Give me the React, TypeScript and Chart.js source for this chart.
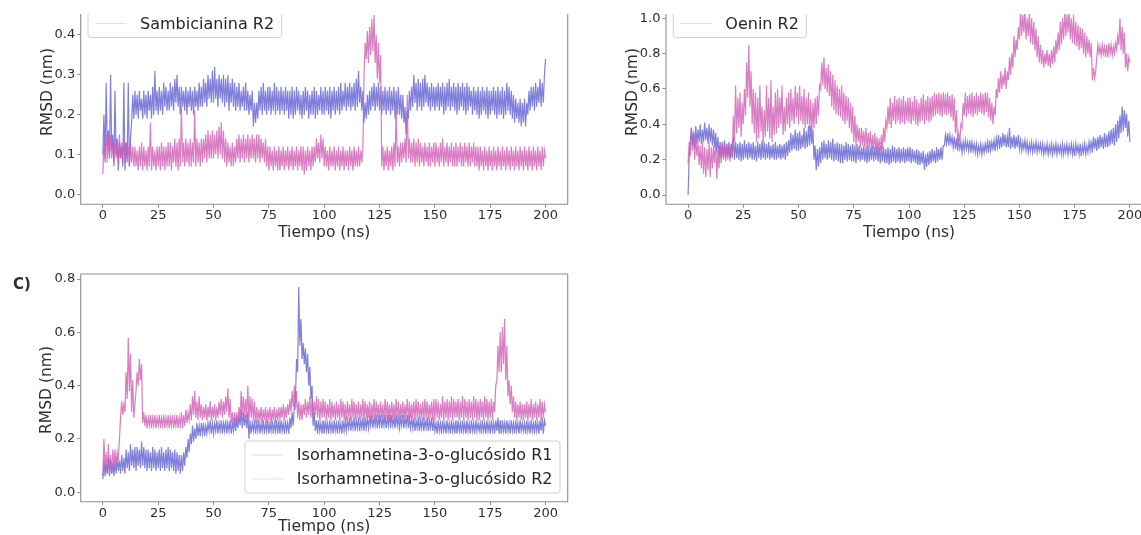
import React, { useEffect, useRef } from "react";
import { Chart, registerables } from "chart.js";
Chart.register(...registerables);

// sampling times (ns), one frame every 0.5 ns
const TIME_NS: number[] = Array.from({ length: 401 }, (_, i) => i * 0.5);
const X_TICKS = [0, 25, 50, 75, 100, 125, 150, 175, 200];
const Y_TICKS_A = [0, 0.1, 0.2, 0.3, 0.4];
const Y_TICKS_B = [0, 0.2, 0.4, 0.6, 0.8, 1.0];
const Y_TICKS_C = [0, 0.2, 0.4, 0.6, 0.8];

const LABELS_A = ["Sambicianina R1", "Sambicianina R2"];
const LABELS_B = ["Oenin R1", "Oenin R2"];
const LABELS_C = ["Isorhamnetina-3-o-glucósido R1", "Isorhamnetina-3-o-glucósido R2"];

const SAMB_R1 = [
  0.10, 0.20, 0.08, 0.28, 0.12, 0.16, 0.09, 0.30, 0.11, 0.15,
  0.07, 0.26, 0.10, 0.14, 0.06, 0.13, 0.09, 0.12, 0.07, 0.28,
  0.06, 0.13, 0.08, 0.28, 0.07, 0.14, 0.18, 0.25, 0.19, 0.26,
  0.20, 0.25, 0.19, 0.26, 0.21, 0.24, 0.19, 0.26, 0.20, 0.25,
  0.19, 0.26, 0.21, 0.25, 0.19, 0.27, 0.20, 0.31, 0.21, 0.26,
  0.20, 0.27, 0.21, 0.26, 0.20, 0.28, 0.22, 0.27, 0.21, 0.26,
  0.21, 0.28, 0.22, 0.27, 0.21, 0.29, 0.23, 0.30, 0.22, 0.27,
  0.20, 0.27, 0.22, 0.26, 0.21, 0.27, 0.20, 0.26, 0.22, 0.27,
  0.21, 0.26, 0.20, 0.27, 0.22, 0.26, 0.21, 0.28, 0.22, 0.27,
  0.22, 0.29, 0.23, 0.28, 0.22, 0.30, 0.24, 0.29, 0.23, 0.31,
  0.23, 0.32, 0.24, 0.29, 0.22, 0.30, 0.24, 0.29, 0.23, 0.30,
  0.22, 0.29, 0.23, 0.30, 0.21, 0.28, 0.23, 0.29, 0.22, 0.28,
  0.21, 0.27, 0.22, 0.28, 0.21, 0.26, 0.22, 0.27, 0.21, 0.28,
  0.21, 0.26, 0.20, 0.25, 0.21, 0.26, 0.17, 0.23, 0.18, 0.23,
  0.19, 0.26, 0.21, 0.27, 0.20, 0.28, 0.21, 0.26, 0.20, 0.27,
  0.21, 0.27, 0.20, 0.26, 0.21, 0.28, 0.20, 0.27, 0.21, 0.26,
  0.20, 0.27, 0.21, 0.26, 0.20, 0.27, 0.21, 0.26, 0.19, 0.26,
  0.20, 0.27, 0.19, 0.26, 0.20, 0.27, 0.21, 0.26, 0.20, 0.25,
  0.19, 0.26, 0.20, 0.27, 0.21, 0.26, 0.19, 0.25, 0.20, 0.26,
  0.20, 0.27, 0.19, 0.26, 0.20, 0.25, 0.21, 0.27, 0.20, 0.26,
  0.20, 0.27, 0.21, 0.26, 0.20, 0.27, 0.19, 0.26, 0.21, 0.27,
  0.20, 0.26, 0.21, 0.27, 0.20, 0.28, 0.21, 0.26, 0.22, 0.28,
  0.21, 0.27, 0.22, 0.28, 0.21, 0.27, 0.22, 0.28, 0.21, 0.29,
  0.22, 0.31, 0.23, 0.27, 0.21, 0.26, 0.18, 0.23, 0.19, 0.25,
  0.20, 0.26, 0.21, 0.27, 0.22, 0.28, 0.21, 0.27, 0.22, 0.28,
  0.21, 0.27, 0.20, 0.26, 0.21, 0.27, 0.20, 0.26, 0.21, 0.27,
  0.20, 0.26, 0.21, 0.27, 0.19, 0.26, 0.20, 0.27, 0.20, 0.25,
  0.19, 0.25, 0.18, 0.22, 0.15, 0.21, 0.19, 0.26, 0.21, 0.27,
  0.22, 0.30, 0.23, 0.28, 0.21, 0.29, 0.22, 0.28, 0.21, 0.29,
  0.22, 0.30, 0.23, 0.28, 0.22, 0.27, 0.21, 0.28, 0.22, 0.27,
  0.21, 0.27, 0.22, 0.28, 0.21, 0.27, 0.22, 0.28, 0.20, 0.27,
  0.21, 0.28, 0.22, 0.29, 0.21, 0.27, 0.22, 0.28, 0.21, 0.27,
  0.20, 0.28, 0.21, 0.27, 0.22, 0.28, 0.21, 0.27, 0.20, 0.28,
  0.21, 0.27, 0.22, 0.26, 0.20, 0.27, 0.21, 0.26, 0.20, 0.27,
  0.19, 0.26, 0.20, 0.27, 0.21, 0.26, 0.20, 0.27, 0.19, 0.26,
  0.20, 0.26, 0.21, 0.27, 0.20, 0.26, 0.19, 0.27, 0.20, 0.26,
  0.20, 0.27, 0.19, 0.26, 0.20, 0.28, 0.21, 0.27, 0.20, 0.26,
  0.19, 0.25, 0.18, 0.24, 0.19, 0.23, 0.18, 0.24, 0.17, 0.23,
  0.18, 0.24, 0.17, 0.23, 0.20, 0.26, 0.21, 0.27, 0.22, 0.27,
  0.21, 0.28, 0.22, 0.27, 0.23, 0.29, 0.22, 0.28, 0.23, 0.30,
  0.34,
];

const SAMB_R2 = [
  0.05, 0.13, 0.09, 0.15, 0.08, 0.14, 0.10, 0.15, 0.09, 0.13,
  0.08, 0.14, 0.09, 0.13, 0.08, 0.15, 0.09, 0.13, 0.08, 0.14,
  0.08, 0.13, 0.09, 0.12, 0.07, 0.13, 0.08, 0.12, 0.07, 0.12,
  0.07, 0.11, 0.06, 0.12, 0.07, 0.13, 0.06, 0.12, 0.07, 0.11,
  0.06, 0.12, 0.07, 0.18, 0.06, 0.12, 0.07, 0.11, 0.06, 0.12,
  0.07, 0.12, 0.06, 0.13, 0.07, 0.12, 0.06, 0.12, 0.07, 0.13,
  0.07, 0.13, 0.06, 0.12, 0.08, 0.14, 0.07, 0.13, 0.06, 0.14,
  0.07, 0.22, 0.08, 0.13, 0.07, 0.14, 0.08, 0.13, 0.07, 0.14,
  0.07, 0.13, 0.08, 0.21, 0.07, 0.14, 0.08, 0.13, 0.07, 0.14,
  0.08, 0.14, 0.09, 0.15, 0.08, 0.16, 0.09, 0.15, 0.09, 0.16,
  0.09, 0.15, 0.10, 0.16, 0.09, 0.17, 0.10, 0.18, 0.09, 0.16,
  0.08, 0.14, 0.07, 0.13, 0.08, 0.12, 0.07, 0.13, 0.07, 0.12,
  0.08, 0.14, 0.09, 0.15, 0.08, 0.14, 0.09, 0.15, 0.08, 0.14,
  0.09, 0.15, 0.08, 0.14, 0.09, 0.15, 0.09, 0.14, 0.08, 0.15,
  0.09, 0.15, 0.08, 0.14, 0.09, 0.13, 0.08, 0.14, 0.07, 0.12,
  0.06, 0.12, 0.07, 0.11, 0.06, 0.12, 0.07, 0.11, 0.06, 0.12,
  0.06, 0.11, 0.07, 0.12, 0.06, 0.11, 0.07, 0.12, 0.06, 0.11,
  0.07, 0.12, 0.06, 0.11, 0.07, 0.12, 0.06, 0.11, 0.07, 0.12,
  0.06, 0.12, 0.05, 0.11, 0.06, 0.12, 0.07, 0.11, 0.06, 0.12,
  0.07, 0.12, 0.08, 0.14, 0.09, 0.13, 0.08, 0.15, 0.09, 0.14,
  0.07, 0.12, 0.07, 0.11, 0.06, 0.12, 0.07, 0.11, 0.07, 0.12,
  0.06, 0.11, 0.07, 0.12, 0.06, 0.11, 0.07, 0.12, 0.06, 0.11,
  0.07, 0.11, 0.06, 0.12, 0.07, 0.11, 0.06, 0.12, 0.07, 0.11,
  0.07, 0.12, 0.07, 0.11, 0.08, 0.12, 0.30, 0.38, 0.34, 0.41,
  0.33, 0.42, 0.35, 0.44, 0.36, 0.45, 0.33, 0.40, 0.29, 0.38,
  0.28, 0.35, 0.07, 0.12, 0.06, 0.11, 0.07, 0.12, 0.06, 0.11,
  0.07, 0.12, 0.06, 0.13, 0.07, 0.22, 0.08, 0.12, 0.07, 0.13,
  0.08, 0.13, 0.09, 0.14, 0.08, 0.25, 0.09, 0.14, 0.08, 0.13,
  0.08, 0.14, 0.07, 0.13, 0.08, 0.14, 0.07, 0.13, 0.08, 0.12,
  0.07, 0.13, 0.08, 0.12, 0.07, 0.13, 0.07, 0.12, 0.08, 0.13,
  0.07, 0.13, 0.08, 0.12, 0.07, 0.13, 0.08, 0.14, 0.07, 0.12,
  0.08, 0.13, 0.07, 0.12, 0.08, 0.13, 0.07, 0.12, 0.07, 0.13,
  0.07, 0.12, 0.08, 0.13, 0.07, 0.12, 0.07, 0.13, 0.08, 0.12,
  0.07, 0.13, 0.07, 0.12, 0.08, 0.13, 0.07, 0.12, 0.07, 0.12,
  0.06, 0.12, 0.07, 0.11, 0.06, 0.12, 0.07, 0.11, 0.06, 0.12,
  0.07, 0.11, 0.06, 0.12, 0.07, 0.11, 0.06, 0.12, 0.07, 0.11,
  0.06, 0.12, 0.07, 0.11, 0.06, 0.12, 0.07, 0.11, 0.06, 0.12,
  0.07, 0.11, 0.06, 0.12, 0.07, 0.11, 0.06, 0.12, 0.07, 0.11,
  0.06, 0.12, 0.07, 0.11, 0.06, 0.12, 0.07, 0.11, 0.06, 0.12,
  0.07, 0.11, 0.06, 0.12, 0.07, 0.11, 0.06, 0.12, 0.07, 0.11,
  0.09,
];

const OENIN_R1 = [
  0.00, 0.22, 0.30, 0.38, 0.28, 0.36, 0.27, 0.39, 0.29, 0.37,
  0.30, 0.40, 0.29, 0.37, 0.30, 0.41, 0.31, 0.38, 0.29, 0.40,
  0.30, 0.38, 0.28, 0.37, 0.27, 0.35, 0.24, 0.33, 0.22, 0.30,
  0.21, 0.30, 0.22, 0.31, 0.21, 0.29, 0.22, 0.30, 0.21, 0.29,
  0.21, 0.33, 0.20, 0.30, 0.21, 0.29, 0.20, 0.30, 0.19, 0.29,
  0.20, 0.31, 0.21, 0.29, 0.20, 0.30, 0.21, 0.29, 0.20, 0.30,
  0.20, 0.28, 0.19, 0.30, 0.21, 0.29, 0.20, 0.31, 0.21, 0.30,
  0.20, 0.29, 0.21, 0.30, 0.20, 0.28, 0.21, 0.29, 0.20, 0.30,
  0.20, 0.28, 0.21, 0.29, 0.20, 0.28, 0.21, 0.29, 0.20, 0.30,
  0.22, 0.31, 0.24, 0.35, 0.25, 0.34, 0.26, 0.37, 0.25, 0.35,
  0.25, 0.36, 0.26, 0.34, 0.27, 0.38, 0.26, 0.36, 0.27, 0.39,
  0.28, 0.39, 0.29, 0.37, 0.20, 0.28, 0.14, 0.26, 0.16, 0.27,
  0.18, 0.30, 0.20, 0.31, 0.21, 0.29, 0.20, 0.31, 0.21, 0.30,
  0.20, 0.32, 0.19, 0.29, 0.20, 0.30, 0.19, 0.29, 0.18, 0.29,
  0.18, 0.28, 0.20, 0.30, 0.19, 0.29, 0.20, 0.28, 0.19, 0.29,
  0.19, 0.28, 0.18, 0.29, 0.20, 0.28, 0.19, 0.27, 0.20, 0.28,
  0.19, 0.27, 0.18, 0.28, 0.19, 0.27, 0.20, 0.28, 0.19, 0.27,
  0.20, 0.28, 0.19, 0.27, 0.18, 0.28, 0.19, 0.27, 0.18, 0.26,
  0.18, 0.27, 0.17, 0.26, 0.18, 0.28, 0.19, 0.27, 0.18, 0.26,
  0.19, 0.27, 0.18, 0.26, 0.19, 0.27, 0.18, 0.26, 0.19, 0.27,
  0.19, 0.27, 0.18, 0.26, 0.19, 0.25, 0.18, 0.26, 0.17, 0.25,
  0.17, 0.24, 0.18, 0.25, 0.14, 0.23, 0.16, 0.24, 0.17, 0.25,
  0.18, 0.26, 0.19, 0.25, 0.18, 0.27, 0.19, 0.26, 0.20, 0.27,
  0.20, 0.28, 0.28, 0.34, 0.29, 0.35, 0.28, 0.34, 0.29, 0.33,
  0.27, 0.33, 0.26, 0.32, 0.25, 0.31, 0.26, 0.30, 0.24, 0.30,
  0.25, 0.31, 0.26, 0.30, 0.25, 0.31, 0.24, 0.30, 0.25, 0.29,
  0.24, 0.29, 0.23, 0.28, 0.24, 0.29, 0.23, 0.28, 0.24, 0.29,
  0.25, 0.30, 0.24, 0.31, 0.25, 0.30, 0.26, 0.31, 0.25, 0.32,
  0.27, 0.34, 0.26, 0.33, 0.27, 0.35, 0.28, 0.34, 0.27, 0.33,
  0.27, 0.38, 0.26, 0.33, 0.27, 0.34, 0.26, 0.33, 0.27, 0.34,
  0.26, 0.31, 0.25, 0.30, 0.26, 0.31, 0.25, 0.30, 0.24, 0.29,
  0.25, 0.30, 0.24, 0.29, 0.25, 0.30, 0.24, 0.29, 0.25, 0.29,
  0.24, 0.29, 0.23, 0.28, 0.24, 0.29, 0.23, 0.28, 0.24, 0.29,
  0.23, 0.28, 0.24, 0.29, 0.23, 0.28, 0.24, 0.28, 0.23, 0.29,
  0.23, 0.28, 0.24, 0.29, 0.23, 0.28, 0.24, 0.29, 0.23, 0.28,
  0.22, 0.29, 0.24, 0.28, 0.23, 0.29, 0.22, 0.28, 0.24, 0.29,
  0.23, 0.28, 0.24, 0.30, 0.25, 0.31, 0.24, 0.33, 0.26, 0.32,
  0.25, 0.33, 0.26, 0.34, 0.27, 0.33, 0.26, 0.35, 0.27, 0.34,
  0.27, 0.36, 0.28, 0.37, 0.29, 0.38, 0.28, 0.40, 0.30, 0.42,
  0.32, 0.45, 0.35, 0.50, 0.36, 0.48, 0.38, 0.46, 0.33, 0.42,
  0.30,
];

const OENIN_R2 = [
  0.18, 0.30, 0.22, 0.38, 0.25, 0.35, 0.20, 0.33, 0.22, 0.30,
  0.17, 0.28, 0.15, 0.30, 0.12, 0.27, 0.10, 0.26, 0.14, 0.30,
  0.10, 0.27, 0.15, 0.28, 0.18, 0.30, 0.09, 0.25, 0.15, 0.28,
  0.18, 0.30, 0.20, 0.28, 0.19, 0.29, 0.20, 0.28, 0.19, 0.27,
  0.22, 0.45, 0.30, 0.62, 0.35, 0.55, 0.38, 0.58, 0.33, 0.52,
  0.40, 0.60, 0.45, 0.75, 0.55, 0.85, 0.50, 0.70, 0.40, 0.60,
  0.35, 0.58, 0.30, 0.55, 0.32, 0.62, 0.36, 0.50, 0.30, 0.48,
  0.33, 0.62, 0.36, 0.55, 0.32, 0.65, 0.30, 0.50, 0.34, 0.58,
  0.35, 0.60, 0.38, 0.55, 0.40, 0.62, 0.34, 0.50, 0.36, 0.55,
  0.40, 0.58, 0.38, 0.60, 0.42, 0.55, 0.40, 0.62, 0.44, 0.58,
  0.40, 0.62, 0.42, 0.56, 0.40, 0.60, 0.38, 0.55, 0.40, 0.58,
  0.36, 0.54, 0.35, 0.52, 0.38, 0.55, 0.40, 0.56, 0.45, 0.62,
  0.60, 0.75, 0.62, 0.78, 0.60, 0.72, 0.58, 0.74, 0.56, 0.70,
  0.50, 0.68, 0.48, 0.65, 0.46, 0.62, 0.45, 0.60, 0.44, 0.62,
  0.42, 0.58, 0.40, 0.56, 0.42, 0.55, 0.38, 0.52, 0.35, 0.50,
  0.30, 0.45, 0.28, 0.40, 0.30, 0.38, 0.27, 0.38, 0.28, 0.36,
  0.27, 0.38, 0.26, 0.35, 0.27, 0.36, 0.25, 0.34, 0.26, 0.35,
  0.25, 0.33, 0.24, 0.32, 0.25, 0.34, 0.26, 0.38, 0.30, 0.42,
  0.38, 0.50, 0.40, 0.55, 0.38, 0.52, 0.42, 0.56, 0.40, 0.54,
  0.42, 0.55, 0.40, 0.54, 0.41, 0.56, 0.40, 0.53, 0.42, 0.55,
  0.41, 0.55, 0.40, 0.53, 0.42, 0.56, 0.40, 0.54, 0.39, 0.52,
  0.41, 0.55, 0.42, 0.57, 0.40, 0.54, 0.42, 0.56, 0.41, 0.55,
  0.42, 0.56, 0.44, 0.58, 0.45, 0.57, 0.46, 0.58, 0.45, 0.57,
  0.44, 0.58, 0.46, 0.57, 0.45, 0.58, 0.46, 0.56, 0.44, 0.57,
  0.42, 0.55, 0.35, 0.48, 0.28, 0.35, 0.30, 0.40, 0.38, 0.52,
  0.45, 0.58, 0.44, 0.56, 0.46, 0.57, 0.45, 0.58, 0.44, 0.56,
  0.46, 0.58, 0.45, 0.56, 0.47, 0.58, 0.46, 0.57, 0.45, 0.58,
  0.47, 0.58, 0.44, 0.55, 0.42, 0.52, 0.40, 0.50, 0.45, 0.60,
  0.55, 0.66, 0.58, 0.70, 0.60, 0.68, 0.62, 0.72, 0.60, 0.70,
  0.65, 0.78, 0.68, 0.80, 0.72, 0.90, 0.78, 0.88, 0.82, 0.95,
  0.88, 1.05, 0.90, 1.02, 0.92, 1.05, 0.88, 1.00, 0.90, 1.04,
  0.86, 1.00, 0.85, 0.98, 0.82, 0.94, 0.78, 0.90, 0.75, 0.85,
  0.74, 0.82, 0.72, 0.80, 0.74, 0.82, 0.73, 0.80, 0.72, 0.82,
  0.74, 0.84, 0.75, 0.88, 0.80, 0.92, 0.82, 0.98, 0.85, 1.00,
  0.88, 1.05, 0.90, 1.02, 0.92, 1.04, 0.88, 1.00, 0.86, 1.02,
  0.85, 0.98, 0.84, 0.96, 0.82, 0.95, 0.83, 0.94, 0.80, 0.92,
  0.78, 0.90, 0.80, 0.88, 0.78, 0.86, 0.65, 0.72, 0.66, 0.70,
  0.78, 0.85, 0.80, 0.84, 0.79, 0.85, 0.80, 0.84, 0.78, 0.85,
  0.78, 0.86, 0.80, 0.85, 0.79, 0.84, 0.80, 0.86, 0.82, 0.90,
  0.85, 1.00, 0.82, 0.95, 0.80, 0.92, 0.72, 0.80, 0.70, 0.78,
  0.75,
];

const ISO_R1 = [
  0.05, 0.12, 0.06, 0.11, 0.07, 0.13, 0.06, 0.12, 0.07, 0.11,
  0.06, 0.12, 0.07, 0.13, 0.08, 0.12, 0.07, 0.14, 0.08, 0.13,
  0.07, 0.16, 0.09, 0.15, 0.08, 0.18, 0.10, 0.16, 0.09, 0.17,
  0.08, 0.17, 0.10, 0.16, 0.09, 0.19, 0.10, 0.17, 0.09, 0.16,
  0.08, 0.16, 0.09, 0.15, 0.08, 0.17, 0.09, 0.16, 0.08, 0.15,
  0.09, 0.16, 0.08, 0.17, 0.09, 0.15, 0.08, 0.16, 0.09, 0.17,
  0.08, 0.16, 0.09, 0.15, 0.08, 0.16, 0.07, 0.15, 0.08, 0.14,
  0.07, 0.14, 0.08, 0.15, 0.10, 0.17, 0.13, 0.20, 0.15, 0.22,
  0.18, 0.25, 0.19, 0.24, 0.20, 0.26, 0.21, 0.25, 0.21, 0.26,
  0.22, 0.26, 0.21, 0.25, 0.22, 0.26, 0.23, 0.27, 0.22, 0.26,
  0.22, 0.26, 0.23, 0.27, 0.22, 0.26, 0.23, 0.27, 0.22, 0.26,
  0.23, 0.27, 0.22, 0.26, 0.23, 0.27, 0.22, 0.26, 0.23, 0.27,
  0.23, 0.28, 0.24, 0.29, 0.25, 0.31, 0.24, 0.30, 0.25, 0.29,
  0.24, 0.30, 0.20, 0.27, 0.22, 0.26, 0.23, 0.27, 0.22, 0.26,
  0.23, 0.27, 0.22, 0.26, 0.23, 0.27, 0.22, 0.26, 0.23, 0.27,
  0.22, 0.26, 0.23, 0.27, 0.22, 0.26, 0.23, 0.27, 0.22, 0.27,
  0.22, 0.27, 0.23, 0.26, 0.22, 0.27, 0.23, 0.26, 0.22, 0.28,
  0.24, 0.30, 0.25, 0.32, 0.35, 0.50, 0.45, 0.77, 0.55, 0.65,
  0.50, 0.56, 0.48, 0.54, 0.45, 0.52, 0.40, 0.47, 0.35, 0.40,
  0.25, 0.30, 0.23, 0.27, 0.22, 0.27, 0.23, 0.26, 0.22, 0.27,
  0.22, 0.27, 0.23, 0.26, 0.22, 0.27, 0.23, 0.26, 0.22, 0.27,
  0.23, 0.26, 0.22, 0.27, 0.23, 0.26, 0.22, 0.27, 0.23, 0.27,
  0.23, 0.27, 0.24, 0.28, 0.23, 0.27, 0.24, 0.28, 0.23, 0.27,
  0.24, 0.28, 0.23, 0.27, 0.24, 0.28, 0.23, 0.28, 0.24, 0.28,
  0.24, 0.28, 0.25, 0.29, 0.24, 0.28, 0.25, 0.29, 0.24, 0.28,
  0.25, 0.29, 0.24, 0.28, 0.25, 0.29, 0.24, 0.28, 0.25, 0.29,
  0.24, 0.29, 0.25, 0.28, 0.24, 0.29, 0.25, 0.28, 0.24, 0.28,
  0.25, 0.29, 0.24, 0.28, 0.25, 0.29, 0.24, 0.28, 0.24, 0.28,
  0.24, 0.28, 0.23, 0.27, 0.24, 0.28, 0.23, 0.27, 0.24, 0.28,
  0.23, 0.27, 0.24, 0.28, 0.23, 0.27, 0.24, 0.28, 0.23, 0.27,
  0.23, 0.26, 0.22, 0.27, 0.23, 0.26, 0.22, 0.27, 0.23, 0.26,
  0.22, 0.27, 0.23, 0.26, 0.22, 0.27, 0.23, 0.26, 0.22, 0.27,
  0.22, 0.27, 0.23, 0.26, 0.22, 0.27, 0.23, 0.26, 0.22, 0.27,
  0.23, 0.26, 0.22, 0.27, 0.23, 0.26, 0.22, 0.27, 0.23, 0.26,
  0.23, 0.26, 0.22, 0.27, 0.23, 0.26, 0.22, 0.27, 0.23, 0.26,
  0.22, 0.27, 0.23, 0.26, 0.22, 0.27, 0.23, 0.28, 0.22, 0.27,
  0.22, 0.27, 0.23, 0.26, 0.22, 0.27, 0.23, 0.26, 0.22, 0.27,
  0.23, 0.26, 0.22, 0.27, 0.23, 0.26, 0.22, 0.27, 0.23, 0.26,
  0.23, 0.26, 0.22, 0.27, 0.23, 0.26, 0.22, 0.27, 0.23, 0.26,
  0.22, 0.27, 0.23, 0.26, 0.22, 0.27, 0.23, 0.28, 0.22, 0.27,
  0.25,
];

const ISO_R2 = [
  0.06, 0.20, 0.08, 0.15, 0.07, 0.18, 0.08, 0.14, 0.07, 0.16,
  0.09, 0.16, 0.10, 0.15, 0.12, 0.20, 0.28, 0.34, 0.29, 0.33,
  0.30, 0.45, 0.35, 0.58, 0.38, 0.52, 0.30, 0.42, 0.28, 0.33,
  0.38, 0.45, 0.40, 0.50, 0.42, 0.48, 0.26, 0.30, 0.25, 0.29,
  0.24, 0.28, 0.25, 0.29, 0.24, 0.28, 0.25, 0.29, 0.24, 0.28,
  0.25, 0.29, 0.24, 0.28, 0.25, 0.29, 0.24, 0.28, 0.25, 0.29,
  0.24, 0.28, 0.25, 0.29, 0.24, 0.28, 0.25, 0.29, 0.24, 0.28,
  0.25, 0.30, 0.24, 0.29, 0.25, 0.31, 0.26, 0.30, 0.27, 0.33,
  0.27, 0.36, 0.29, 0.38, 0.28, 0.34, 0.27, 0.36, 0.28, 0.33,
  0.27, 0.32, 0.28, 0.33, 0.27, 0.32, 0.28, 0.34, 0.27, 0.32,
  0.28, 0.33, 0.27, 0.32, 0.28, 0.34, 0.29, 0.35, 0.28, 0.34,
  0.29, 0.36, 0.30, 0.39, 0.28, 0.35, 0.26, 0.30, 0.25, 0.30,
  0.25, 0.30, 0.26, 0.32, 0.28, 0.38, 0.29, 0.36, 0.28, 0.35,
  0.28, 0.40, 0.27, 0.36, 0.28, 0.35, 0.27, 0.34, 0.26, 0.32,
  0.26, 0.31, 0.27, 0.32, 0.26, 0.31, 0.27, 0.32, 0.26, 0.31,
  0.27, 0.32, 0.26, 0.31, 0.27, 0.32, 0.26, 0.31, 0.27, 0.32,
  0.27, 0.32, 0.28, 0.33, 0.27, 0.32, 0.28, 0.33, 0.29, 0.35,
  0.30, 0.38, 0.32, 0.40, 0.31, 0.38, 0.28, 0.34, 0.27, 0.33,
  0.27, 0.33, 0.29, 0.35, 0.28, 0.34, 0.29, 0.36, 0.28, 0.35,
  0.28, 0.34, 0.29, 0.36, 0.28, 0.35, 0.27, 0.34, 0.28, 0.35,
  0.28, 0.34, 0.27, 0.33, 0.28, 0.35, 0.27, 0.34, 0.28, 0.33,
  0.27, 0.34, 0.28, 0.33, 0.27, 0.35, 0.28, 0.34, 0.27, 0.33,
  0.27, 0.34, 0.28, 0.33, 0.27, 0.35, 0.28, 0.34, 0.27, 0.33,
  0.28, 0.34, 0.27, 0.33, 0.28, 0.35, 0.27, 0.34, 0.28, 0.33,
  0.28, 0.34, 0.27, 0.33, 0.28, 0.35, 0.27, 0.34, 0.28, 0.33,
  0.27, 0.34, 0.28, 0.33, 0.27, 0.35, 0.28, 0.34, 0.27, 0.33,
  0.27, 0.34, 0.28, 0.33, 0.27, 0.35, 0.28, 0.34, 0.27, 0.33,
  0.28, 0.34, 0.27, 0.33, 0.28, 0.35, 0.27, 0.34, 0.28, 0.33,
  0.28, 0.34, 0.27, 0.35, 0.28, 0.34, 0.27, 0.33, 0.28, 0.34,
  0.27, 0.35, 0.28, 0.34, 0.27, 0.33, 0.28, 0.34, 0.27, 0.35,
  0.27, 0.35, 0.28, 0.34, 0.27, 0.33, 0.28, 0.36, 0.27, 0.34,
  0.28, 0.35, 0.27, 0.34, 0.28, 0.36, 0.27, 0.35, 0.28, 0.34,
  0.28, 0.35, 0.27, 0.34, 0.28, 0.36, 0.27, 0.35, 0.28, 0.34,
  0.27, 0.35, 0.28, 0.34, 0.27, 0.36, 0.28, 0.35, 0.27, 0.34,
  0.27, 0.35, 0.28, 0.34, 0.27, 0.36, 0.28, 0.35, 0.27, 0.34,
  0.28, 0.35, 0.27, 0.34, 0.30, 0.40, 0.42, 0.55, 0.45, 0.60,
  0.45, 0.62, 0.48, 0.65, 0.42, 0.55, 0.36, 0.42, 0.33, 0.40,
  0.30, 0.36, 0.28, 0.34, 0.27, 0.33, 0.28, 0.34, 0.27, 0.33,
  0.27, 0.33, 0.28, 0.34, 0.27, 0.33, 0.28, 0.35, 0.27, 0.33,
  0.28, 0.34, 0.27, 0.33, 0.28, 0.35, 0.27, 0.34, 0.28, 0.33,
  0.30,
];

const FONT = '"DejaVu Sans", sans-serif';
const BLUE = "rgba(96, 96, 210, 0.8)";
const PINK = "rgba(208, 94, 180, 0.8)";
const BLUE_FAINT = "rgba(92, 92, 208, 0.25)";
const PINK_FAINT = "rgba(206, 92, 178, 0.25)";
const TEXT = "#2e2e2e";

type TextItem = { text: string; x: number; y: number; font: string; rot?: number; align?: CanvasTextAlign; baseline?: CanvasTextBaseline };

function framePlugin(drawTop: boolean) {
  return {
    id: "frame",
    afterDatasetsDraw(chart: any) {
      const { ctx, chartArea: a } = chart;
      ctx.save();
      ctx.strokeStyle = "#8f8f8f";
      ctx.lineWidth = 1.1;
      ctx.beginPath();
      ctx.moveTo(a.left, a.top);
      ctx.lineTo(a.left, a.bottom);
      ctx.lineTo(a.right, a.bottom);
      ctx.lineTo(a.right, a.top);
      if (drawTop) ctx.closePath();
      ctx.stroke();
      ctx.restore();
    },
  };
}

function legendPlugin(labels: string[], colors: string[], anchor: "upper" | "lower") {
  return {
    id: "legendBox",
    afterDraw(chart: any) {
      const { ctx, chartArea: a } = chart;
      const rowH = 24, padV = 2, padL = 7, lineLen = 31, gap = 14, padR = 7.5;
      ctx.save();
      ctx.beginPath();
      ctx.rect(a.left, a.top, a.right - a.left, a.bottom - a.top);
      ctx.clip();
      ctx.font = `16px ${FONT}`;
      const tw = Math.max(...labels.map((l) => ctx.measureText(l).width));
      const w = padL + lineLen + gap + tw + padR;
      const h = labels.length * rowH + padV * 2;
      let x: number, y: number;
      if (anchor === "upper") {
        x = a.left + 7.3;
        y = a.top + 9.5 + rowH / 2 + padV - h;
      } else {
        x = a.right - 7.7 - w;
        y = a.bottom - 8.7 - h;
      }
      ctx.fillStyle = "rgba(255,255,255,0.85)";
      ctx.strokeStyle = "rgba(205,205,205,0.9)";
      ctx.lineWidth = 1;
      ctx.beginPath();
      ctx.roundRect(x, y, w, h, 3);
      ctx.fill();
      ctx.stroke();
      labels.forEach((l, i) => {
        const cy = y + padV + rowH * i + rowH / 2;
        ctx.strokeStyle = colors[i];
        ctx.lineWidth = 1;
        ctx.beginPath();
        ctx.moveTo(x + padL, cy);
        ctx.lineTo(x + padL + lineLen, cy);
        ctx.stroke();
        ctx.fillStyle = "#262626";
        ctx.textAlign = "left";
        ctx.textBaseline = "middle";
        ctx.fillText(l, x + padL + lineLen + gap, cy + 1);
      });
      ctx.restore();
    },
  };
}

function textPlugin(items: TextItem[]) {
  return {
    id: "texts",
    afterDraw(chart: any) {
      const ctx = chart.ctx;
      items.forEach((t) => {
        ctx.save();
        ctx.font = t.font;
        ctx.fillStyle = TEXT;
        ctx.textAlign = t.align || "center";
        ctx.textBaseline = t.baseline || "middle";
        ctx.translate(t.x, t.y);
        if (t.rot) ctx.rotate(t.rot);
        ctx.fillText(t.text, 0, 0);
        ctx.restore();
      });
    },
  };
}

type PanelCfg = {
  r1: number[];
  r2: number[];
  labels: string[];
  yMin: number;
  yMax: number;
  yTicks: number[];
  axisW: number;
  axisH: number;
  padR: number;
  drawTop: boolean;
  legendAnchor: "upper" | "lower";
  texts: TextItem[];
};

function makeChart(canvas: HTMLCanvasElement, c: PanelCfg) {
  const toPts = (arr: number[]) => arr.map((v, i) => ({ x: TIME_NS[i], y: v }));
  const lineStyle = { borderWidth: 1.2, pointRadius: 0, tension: 0, borderJoinStyle: "miter" as const };
  return new Chart(canvas, {
    type: "line",
    data: {
      datasets: [
        { label: c.labels[0], data: toPts(c.r1), borderColor: BLUE, order: 1, ...lineStyle },
        { label: c.labels[1], data: toPts(c.r2), borderColor: PINK, order: 0, ...lineStyle },
      ],
    },
    options: {
      responsive: false,
      animation: false,
      devicePixelRatio: 1,
      events: [],
      layout: { padding: { top: 14, right: c.padR, left: 0, bottom: 0 } },
      plugins: { legend: { display: false }, tooltip: { enabled: false } },
      scales: {
        x: {
          type: "linear",
          min: -10,
          max: 210,
          bounds: "data",
          afterBuildTicks: (s: any) => {
            s.ticks = X_TICKS.map((v) => ({ value: v }));
          },
          afterFit: (s: any) => {
            s.height = c.axisH;
          },
          ticks: { font: { family: FONT, size: 13 }, color: TEXT, padding: 0.5, maxRotation: 0, autoSkip: false, callback: (v: any) => String(v) },
          grid: { display: true, drawOnChartArea: false, drawTicks: true, tickLength: 3.5, tickColor: "#8f8f8f", tickWidth: 1 },
          border: { display: false },
        },
        y: {
          type: "linear",
          min: c.yMin,
          max: c.yMax,
          bounds: "data",
          afterBuildTicks: (s: any) => {
            s.ticks = c.yTicks.map((v) => ({ value: v }));
          },
          afterFit: (s: any) => {
            s.width = c.axisW;
          },
          ticks: { font: { family: FONT, size: 13 }, color: TEXT, padding: 2, autoSkip: false, callback: (v: any) => Number(v).toFixed(1) },
          grid: { display: true, drawOnChartArea: false, drawTicks: true, tickLength: 3.5, tickColor: "#8f8f8f", tickWidth: 1 },
          border: { display: false },
        },
      },
    },
    plugins: [framePlugin(c.drawTop), legendPlugin(c.labels, [BLUE_FAINT, PINK_FAINT], c.legendAnchor), textPlugin(c.texts)],
  } as any);
}

const TITLE_FONT = `15.5px ${FONT}`;

export default function App() {
  const refA = useRef<HTMLCanvasElement>(null);
  const refB = useRef<HTMLCanvasElement>(null);
  const refC = useRef<HTMLCanvasElement>(null);

  useEffect(() => {
    const charts: Chart[] = [];
    if (refA.current)
      charts.push(
        makeChart(refA.current, {
          r1: SAMB_R1, r2: SAMB_R2, labels: LABELS_A,
          yMin: -0.0251, yMax: 0.4527, yTicks: Y_TICKS_A,
          axisW: 80.7, axisH: 49.7, padR: 32.3, drawTop: false, legendAnchor: "upper",
          texts: [
            { text: "RMSD (nm)", x: 48, y: 92, font: TITLE_FONT, rot: -Math.PI / 2 },
            { text: "Tiempo (ns)", x: 324.2, y: 237, font: TITLE_FONT, baseline: "alphabetic" },
          ],
        })
      );
    if (refB.current)
      charts.push(
        makeChart(refB.current, {
          r1: OENIN_R1, r2: OENIN_R2, labels: LABELS_B,
          yMin: -0.0526, yMax: 1.0243, yTicks: Y_TICKS_B,
          axisW: 81, axisH: 49.7, padR: 33, drawTop: false, legendAnchor: "upper",
          texts: [
            { text: "RMSD (nm)", x: 48, y: 92, font: TITLE_FONT, rot: -Math.PI / 2 },
            { text: "Tiempo (ns)", x: 324, y: 237, font: TITLE_FONT, baseline: "alphabetic" },
          ],
        })
      );
    if (refC.current)
      charts.push(
        makeChart(refC.current, {
          r1: ISO_R1, r2: ISO_R2, labels: LABELS_C,
          yMin: -0.0353, yMax: 0.8188, yTicks: Y_TICKS_C,
          axisW: 80.7, axisH: 33.3, padR: 32.3, drawTop: true, legendAnchor: "lower",
          texts: [
            { text: "RMSD (nm)", x: 47, y: 130, font: TITLE_FONT, rot: -Math.PI / 2 },
            { text: "Tiempo (ns)", x: 324.2, y: 271, font: TITLE_FONT, baseline: "alphabetic" },
            { text: "C)", x: 13, y: 25, font: `bold 15px ${FONT}`, align: "left" },
          ],
        })
      );
    return () => charts.forEach((ch) => ch.destroy());
  }, []);

  return (
    <div style={{ position: "fixed", left: 0, top: 0, width: 1141, height: 535, overflow: "hidden", background: "#fff" }}>
      <canvas ref={refA} width={600} height={254} style={{ position: "absolute", left: 0, top: 0 }} />
      <canvas ref={refB} width={600} height={254} style={{ position: "absolute", left: 585, top: 0 }} />
      <canvas ref={refC} width={600} height={275} style={{ position: "absolute", left: 0, top: 260 }} />
    </div>
  );
}
